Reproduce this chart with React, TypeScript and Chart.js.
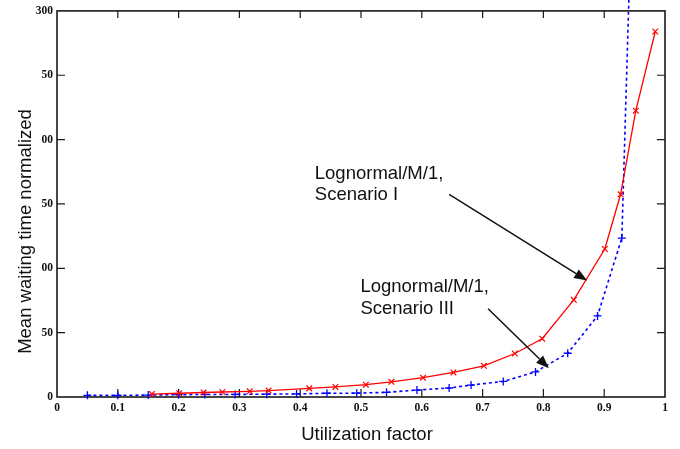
import React, { useEffect, useRef } from 'react';
import { Chart, registerables } from 'chart.js';

Chart.register(...registerables);

// Scenario I (red, solid, x markers)
const scenarioIX = [0.156, 0.201, 0.241, 0.272, 0.317, 0.348, 0.415, 0.458, 0.508, 0.55, 0.602, 0.652, 0.702, 0.753, 0.798, 0.85, 0.901, 0.927, 0.952, 0.984];
const scenarioIY = [2.3, 2.9, 3.5, 3.9, 4.4, 5.0, 6.7, 7.8, 9.6, 11.8, 15.0, 19.1, 24.2, 33.8, 45.3, 75.5, 115, 157.5, 222.5, 284];

// Scenario III (blue, dashed, + markers)
const scenarioIIIX = [0.05, 0.1, 0.15, 0.2, 0.243, 0.293, 0.345, 0.394, 0.444, 0.493, 0.542, 0.592, 0.645, 0.681, 0.734, 0.787, 0.84, 0.889, 0.929, 0.95];
const scenarioIIIY = [1.3, 1.3, 1.5, 1.8, 2.0, 2.0, 2.2, 2.4, 2.9, 3.0, 3.6, 5.4, 7.0, 9.3, 12.1, 19.5, 34, 63, 123.5, 460];

const xTickLabels = ['0', '0.1', '0.2', '0.3', '0.4', '0.5', '0.6', '0.7', '0.8', '0.9', '1'];
const yTickLabels = ['0', '50', '00', '50', '00', '50', '300'];

const xTitle = 'Utilization factor';
const yTitle = 'Mean waiting time normalized';

const labelI = ['Lognormal/M/1,', 'Scenario I'];
const labelIAnchor = { x: 0.424, y: 173.2 };
const arrowI = { from: [0.645, 157.5], to: [0.872, 90.5] };

const labelIII = ['Lognormal/M/1,', 'Scenario III'];
const labelIIIAnchor = { x: 0.499, y: 85.3 };
const arrowIII = { from: [0.709, 68.6], to: [0.809, 22.4] };

const SANS = "'Liberation Sans', Arial, Helvetica, sans-serif";
const SERIF = "'Liberation Serif', 'DejaVu Serif', serif";

function drawArrow(ctx: CanvasRenderingContext2D, x1: number, y1: number, x2: number, y2: number) {
  const ang = Math.atan2(y2 - y1, x2 - x1);
  const len = 13;
  const half = 5;
  const bx = x2 - len * Math.cos(ang);
  const by = y2 - len * Math.sin(ang);
  ctx.beginPath();
  ctx.moveTo(x1, y1);
  ctx.lineTo(bx, by);
  ctx.stroke();
  ctx.beginPath();
  ctx.moveTo(x2, y2);
  ctx.lineTo(bx + half * Math.sin(ang), by - half * Math.cos(ang));
  ctx.lineTo(bx - half * Math.sin(ang), by + half * Math.cos(ang));
  ctx.closePath();
  ctx.fill();
}

const framePlugin = {
  id: 'framePlugin',
  beforeDatasetsDraw(chart: any) {
    const { ctx, chartArea: a, scales } = chart;
    const x = scales.x;
    const y = scales.y;
    ctx.save();
    ctx.strokeStyle = '#1a1a1a';
    ctx.lineWidth = 1.2;
    x.ticks.forEach((t: any) => {
      if (t.value <= 0 || t.value >= 1) return;
      const px = x.getPixelForValue(t.value);
      ctx.beginPath();
      ctx.moveTo(px, a.bottom);
      ctx.lineTo(px, a.bottom - 8);
      ctx.moveTo(px, a.top);
      ctx.lineTo(px, a.top + 7);
      ctx.stroke();
    });
    y.ticks.forEach((t: any) => {
      if (t.value <= 0 || t.value >= 300) return;
      const py = y.getPixelForValue(t.value);
      ctx.beginPath();
      ctx.moveTo(a.left, py);
      ctx.lineTo(a.left + 8, py);
      ctx.moveTo(a.right, py);
      ctx.lineTo(a.right - 8, py);
      ctx.stroke();
    });
    ctx.lineWidth = 1.6;
    ctx.strokeRect(a.left, a.top, a.right - a.left, a.bottom - a.top);
    ctx.restore();
  },
  afterDatasetsDraw(chart: any) {
    const { ctx, chartArea: a, scales } = chart;
    const x = scales.x;
    const y = scales.y;
    ctx.save();
    ctx.fillStyle = '#111';
    ctx.strokeStyle = '#111';
    ctx.font = `18.5px ${SANS}`;
    ctx.textBaseline = 'middle';
    ctx.textAlign = 'left';
    // annotations
    const drawLabel = (lines: string[], anchor: { x: number; y: number }, gap: number) => {
      const px = x.getPixelForValue(anchor.x);
      const py = y.getPixelForValue(anchor.y);
      lines.forEach((l, i) => ctx.fillText(l, px, py + i * gap));
    };
    drawLabel(labelI, labelIAnchor, 20.5);
    drawLabel(labelIII, labelIIIAnchor, 21.5);
    ctx.lineWidth = 1.5;
    [arrowI, arrowIII].forEach((ar) => {
      drawArrow(
        ctx,
        x.getPixelForValue(ar.from[0]),
        y.getPixelForValue(ar.from[1]),
        x.getPixelForValue(ar.to[0]),
        y.getPixelForValue(ar.to[1])
      );
    });
    // axis titles
    ctx.textAlign = 'center';
    ctx.fillText(xTitle, a.left + 310, 434.5);
    ctx.translate(26, 231.5);
    ctx.rotate(-Math.PI / 2);
    ctx.fillText(yTitle, 0, 0);
    ctx.restore();
  },
};

export default function App() {
  const ref = useRef<HTMLCanvasElement>(null);
  useEffect(() => {
    if (!ref.current) return;
    const chart = new Chart(ref.current, {
      type: 'line',
      data: {
        datasets: [
          {
            label: 'Scenario I',
            data: scenarioIX.map((v, i) => ({ x: v, y: scenarioIY[i] })),
            borderColor: '#ff0000',
            backgroundColor: '#ff0000',
            borderWidth: 1.3,
            pointStyle: 'crossRot',
            pointRadius: 4,
            pointBorderWidth: 1.2,
            pointBorderColor: '#ff0000',
            tension: 0,
            fill: false,
          },
          {
            label: 'Scenario III',
            data: scenarioIIIX.map((v, i) => ({ x: v, y: scenarioIIIY[i] })),
            borderColor: '#0000ff',
            backgroundColor: '#0000ff',
            borderWidth: 1.6,
            borderDash: [3, 3],
            pointStyle: 'cross',
            pointRadius: 4,
            pointBorderWidth: 1.3,
            pointBorderColor: '#0000ff',
            tension: 0,
            fill: false,
            clip: false as any,
          },
        ],
      },
      options: {
        animation: false,
        responsive: false,
        layout: { padding: { left: 0, right: 15, top: 9.5, bottom: 0 } },
        plugins: {
          legend: { display: false },
          tooltip: { enabled: false },
        },
        scales: {
          x: {
            type: 'linear',
            min: 0,
            max: 1,
            grid: { display: false, drawTicks: false },
            border: { display: false },
            ticks: {
              stepSize: 0.1,
              padding: 4,
              color: '#111',
              font: { family: SERIF, size: 11.5, weight: 'bold' },
              callback: (v: any) => {
                const i = Math.round(Number(v) * 10);
                return xTickLabels[i] ?? '';
              },
              maxRotation: 0,
            },
            afterFit: (s: any) => {
              s.height = 52;
            },
          },
          y: {
            type: 'linear',
            min: 0,
            max: 300,
            grid: { display: false, drawTicks: false },
            border: { display: false },
            ticks: {
              stepSize: 50,
              padding: 4,
              color: '#111',
              font: { family: SERIF, size: 11.5, weight: 'bold' },
              callback: (v: any) => {
                const i = Math.round(Number(v) / 50);
                return yTickLabels[i] ?? '';
              },
            },
            afterFit: (s: any) => {
              s.width = 57;
            },
          },
        },
      },
      plugins: [framePlugin],
    });
    return () => chart.destroy();
  }, []);
  return (
    <div style={{ position: 'absolute', left: 0, top: 0, width: 680, height: 449, background: '#fff' }}>
      <canvas ref={ref} width={680} height={449} />
    </div>
  );
}
